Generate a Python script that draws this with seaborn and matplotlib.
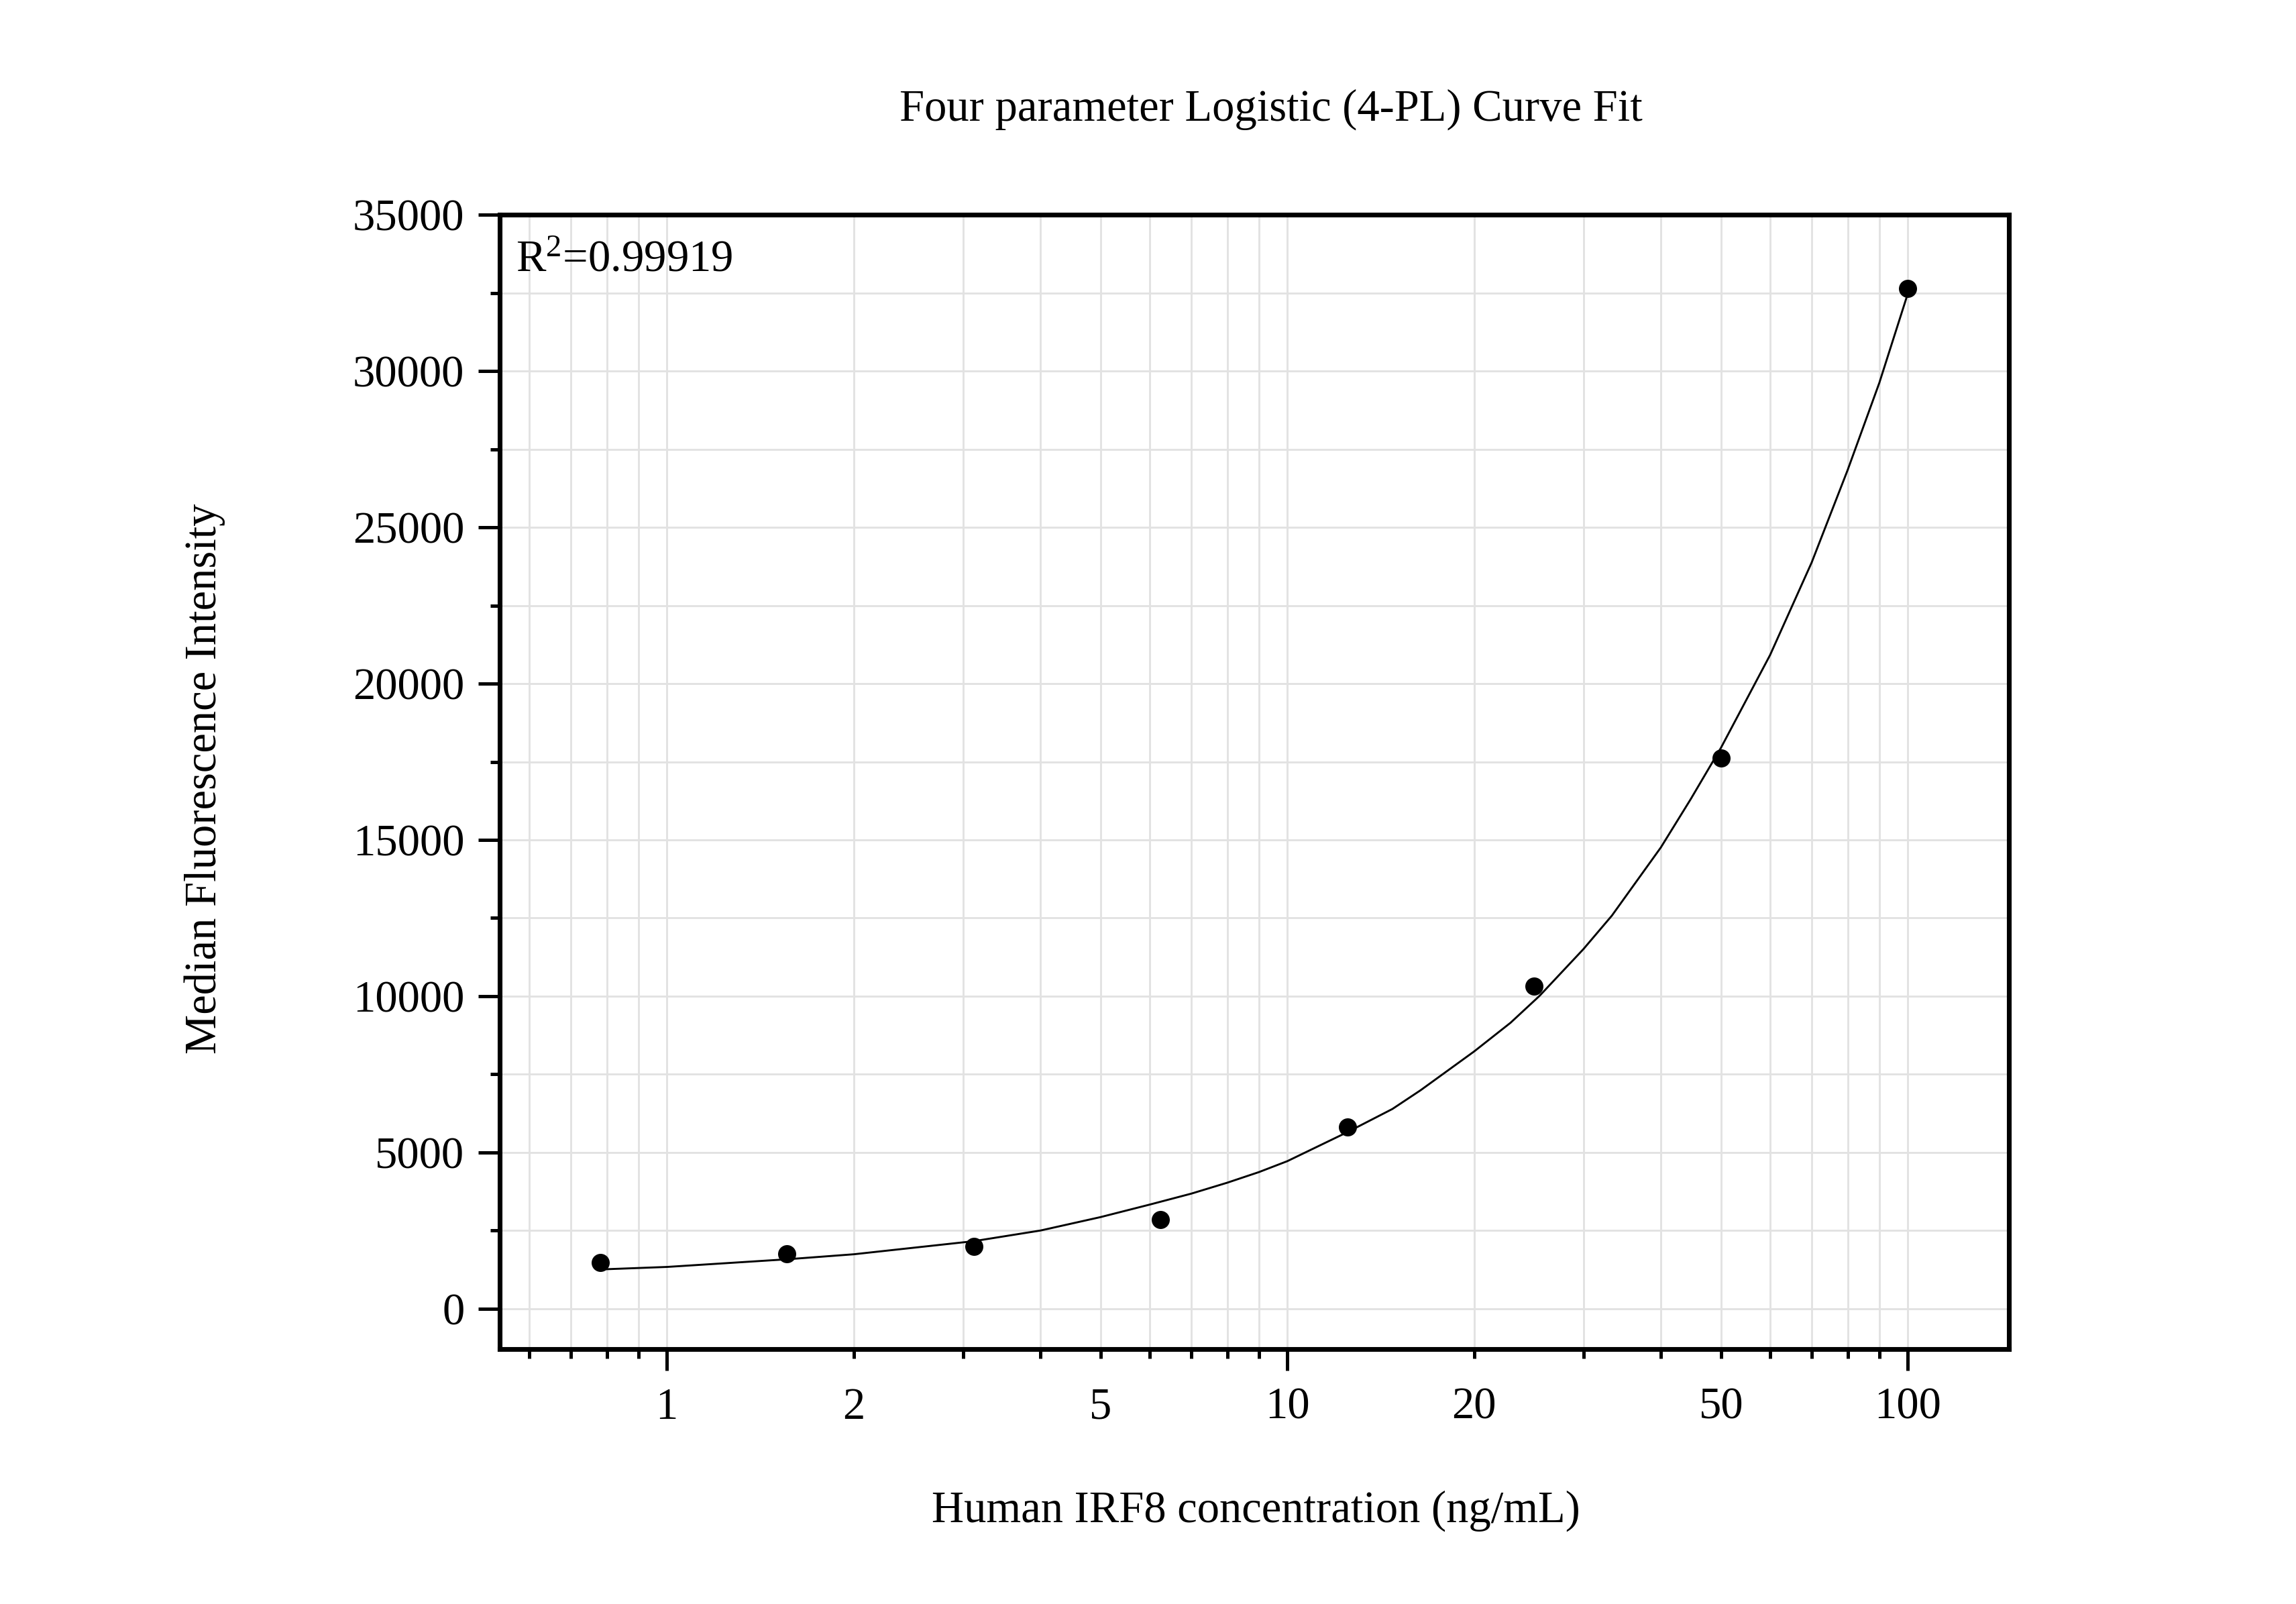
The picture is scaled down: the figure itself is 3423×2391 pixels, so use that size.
import matplotlib
matplotlib.use("Agg")
import matplotlib.pyplot as plt
import seaborn as sns
from matplotlib.ticker import FixedLocator, MultipleLocator, FuncFormatter

# ---- data ----
conc = [0.78125, 1.5625, 3.125, 6.25, 12.5, 25, 50, 100]
mfi = [1470, 1750, 1990, 2860, 5815, 10320, 17620, 32650]

fit_conc = [0.78125, 1, 1.5625, 2, 3.125, 4, 5, 6, 7, 8, 9, 10, 12.5, 14.77,
            16.4, 20, 22.9, 25.5, 30, 33.35, 40, 44.67, 50, 60, 70, 80, 90, 100]
fit_mfi = [1255, 1335, 1580, 1740, 2160, 2500, 2930, 3330, 3680, 4030, 4370,
           4720, 5650, 6390, 6990, 8230, 9150, 10010, 11503, 12577, 14760,
           16300, 17950, 20919, 23877, 26836, 29631, 32479]

x_major = [1, 10, 100]
x_minor = [0.6, 0.7, 0.8, 0.9, 2, 3, 4, 5, 6, 7, 8, 9,
           20, 30, 40, 50, 60, 70, 80, 90]
x_minor_labels = [2, 5, 20, 50]

title = "Four parameter Logistic (4-PL) Curve Fit"
xlabel = "Human IRF8 concentration (ng/mL)"
ylabel = "Median Fluorescence Intensity"
r2_text = "R$^{2}$=0.99919"

# ---- style ----
sns.set_style("ticks")
plt.rcParams["font.family"] = ["Liberation Serif", "DejaVu Serif"]
plt.rcParams["mathtext.fontset"] = "custom"
plt.rcParams["mathtext.rm"] = "Liberation Serif"
plt.rcParams["mathtext.it"] = "Liberation Serif:italic"
plt.rcParams["mathtext.default"] = "regular"
plt.rcParams["text.color"] = "black"
plt.rcParams["axes.labelcolor"] = "black"
plt.rcParams["xtick.color"] = "black"
plt.rcParams["ytick.color"] = "black"

W, H, DPI = 3423, 2391, 300
fig = plt.figure(figsize=(W / DPI, H / DPI), dpi=DPI)
ax = fig.add_axes([0.2177, 0.159, 0.6573, 0.707])
ax.set_xscale("log")

sns.lineplot(x=fit_conc, y=fit_mfi, ax=ax, color="black", linewidth=0.7,
             estimator=None, sort=True, zorder=2)
sns.scatterplot(x=conc, y=mfi, ax=ax, color="black", s=42, linewidth=0,
                zorder=3)

ax.set_xlim(0.538, 145.6)
ax.set_ylim(-1290, 35000)

ax.xaxis.set_major_locator(FixedLocator(x_major))
ax.xaxis.set_minor_locator(FixedLocator(x_minor))
ax.xaxis.set_major_formatter(FuncFormatter(lambda v, p: f"{v:g}"))
ax.xaxis.set_minor_formatter(
    FuncFormatter(lambda v, p: f"{v:g}" if round(v, 3) in x_minor_labels else ""))
ax.yaxis.set_major_locator(MultipleLocator(5000))
ax.yaxis.set_minor_locator(MultipleLocator(2500))
ax.yaxis.set_major_formatter(FuncFormatter(lambda v, p: f"{int(round(v))}"))

ax.set_axisbelow(True)
ax.grid(which="both", color="#e2e2e2", linewidth=0.7)

ax.tick_params(which="both", direction="out", top=False, right=False,
               width=1.2, labelsize=16, colors="black", labelcolor="black")
ax.tick_params(which="major", length=7.7, pad=6)
ax.tick_params(axis="x", which="minor", length=3.4, pad=10.3)
ax.tick_params(axis="y", which="minor", length=3.4)
ax.tick_params(axis="y", which="major", pad=5)

for s in ax.spines.values():
    s.set_linewidth(1.7)
    s.set_color("black")
    s.set_visible(True)

ax.set_title(title, fontsize=16, x=0.511, y=1.078, va="center", color="black")
ax.set_xlabel(xlabel, fontsize=16, va="center", color="black")
ax.xaxis.set_label_coords(0.501, -0.143)
ax.set_ylabel(ylabel, fontsize=16, va="center", color="black")
ax.yaxis.set_label_coords(-0.1956, 0.503)

ax.text(0.0107, 0.950, r2_text, transform=ax.transAxes, ha="left",
        va="baseline", fontsize=16, color="black")

fig.savefig("out.png", dpi=DPI)
